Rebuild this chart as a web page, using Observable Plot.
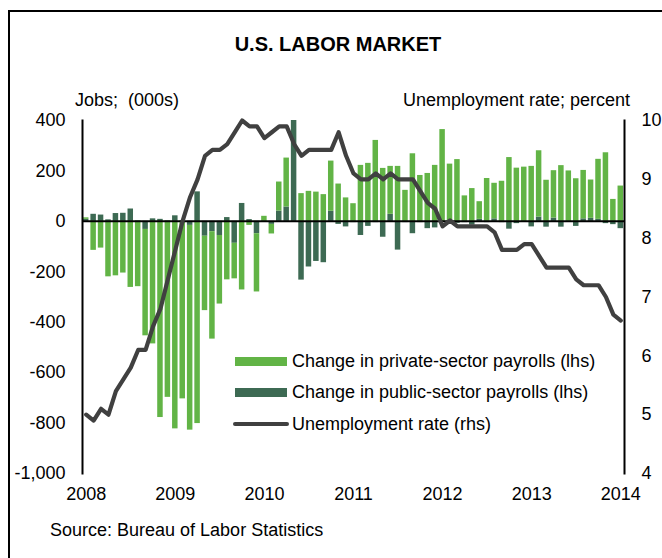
<!DOCTYPE html>
<html><head><meta charset="utf-8">
<script src="https://cdn.jsdelivr.net/npm/d3@7"></script>
<script src="https://cdn.jsdelivr.net/npm/@observablehq/plot@0.6"></script>
<style>
body{margin:0;background:#fff;font-family:"Liberation Sans",Arial,sans-serif;}
#page{position:relative;width:662px;height:558px;overflow:hidden;background:#fff;}
#frame{position:absolute;left:8px;top:10px;width:800px;height:800px;border-left:2px solid #000;border-top:2px solid #000;}
.t{position:absolute;font-size:18px;color:#000;white-space:pre;line-height:1;}
.sw{position:absolute;}
</style></head><body>
<div id="page">
<div id="frame"></div>
<div class="t" style="left:0;width:676px;text-align:center;top:34px;font-weight:bold;font-size:20px;">U.S. LABOR MARKET</div>
<div class="t" style="left:75px;top:91px;">Jobs;  (000s)</div>
<div class="t" style="right:32px;top:91px;">Unemployment rate; percent</div>
<div id="chart" style="position:absolute;left:0;top:110px;"></div>
<div id="legend"></div>
<div class="t" style="left:50px;top:521px;">Source: Bureau of Labor Statistics</div>
</div>
<script>
// Monthly changes, thousands (Jan 2008 - Jan 2014)
const privateSector = [6,-115,-106,-220,-216,-205,-262,-259,-422,-486,-778,-698,
  -823,-704,-812,-802,-295,-426,-272,-232,-141,-272,-16,-231,
  20,-38,115,194,110,110,119,116,106,199,148,93,
  70,222,230,321,210,190,218,123,268,182,190,222,
  364,227,245,101,130,70,170,141,159,253,211,215,
  218,263,163,188,221,200,169,192,152,238,272,87,
  140];
const publicSector = [8,28,25,6,31,32,49,2,-32,10,8,2,
  22,2,-16,117,-59,-41,-56,15,-87,71,7,-49,
  -3,-12,41,57,410,-233,-181,-159,-164,40,-12,-22,
  -5,-56,-20,-5,-63,28,-114,-5,-49,-5,-29,-26,
  -5,-5,-8,-5,-15,8,-5,10,-5,-31,-9,-3,
  -22,17,-23,13,-23,-3,-20,10,12,8,-9,-13,
  -29];
// Unemployment rate, percent
const unemployment = [5.0,4.9,5.1,5.0,5.4,5.6,5.8,6.1,6.1,6.5,6.8,7.3,
  7.8,8.3,8.7,9.0,9.4,9.5,9.5,9.6,9.8,10.0,9.9,9.9,
  9.7,9.8,9.9,9.9,9.6,9.4,9.5,9.5,9.5,9.5,9.8,9.4,
  9.1,9.0,9.0,9.1,9.0,9.1,9.0,9.0,9.0,8.8,8.6,8.5,
  8.2,8.3,8.2,8.2,8.2,8.2,8.2,8.1,7.8,7.8,7.8,7.9,
  7.9,7.7,7.5,7.5,7.5,7.5,7.3,7.2,7.2,7.2,7.0,6.7,
  6.6];
const jobTicks = [-1000,-800,-600,-400,-200,0,200,400];
const rateTicks = [4,5,6,7,8,9,10];
const seriesNames = ["Change in private-sector payrolls (lhs)","Change in public-sector payrolls (lhs)","Unemployment rate (rhs)"];
const colors = {private:"#62b446", public:"#3d6a53", rate:"#404040"};

const months = d3.range(privateSector.length).map(i => `${2008 + Math.floor(i/12)}-${String(i%12+1).padStart(2,"0")}`);
const yearTicks = months.filter(m => m.endsWith("-01"));
const toLeft = u => (u - 4) / 6 * 1400 - 1000;
const fromLeft = v => Math.round((v + 1000) / 1400 * 6 + 4);

const rows = [];
months.forEach((m, i) => {
  rows.push({month: m, series: "public", value: publicSector[i]});
  rows.push({month: m, series: "private", value: privateSector[i]});
});
const rateRows = months.map((m, i) => ({month: m, rate: toLeft(unemployment[i])}));

const chart = Plot.plot({
  width: 662, height: 400,
  marginLeft: 82, marginRight: 38, marginTop: 10, marginBottom: 37,
  style: {fontFamily: "'Liberation Sans', Arial, sans-serif", fontSize: "18px", color: "#000", background: "transparent", overflow: "visible"},
  x: {type: "band", domain: months, paddingInner: 0.26, paddingOuter: 0.13, round: false, label: null},
  y: {domain: [-1000, 400], label: null},
  color: {domain: ["private", "public"], range: [colors.private, colors.public]},
  marks: [
    Plot.barY(rows, {x: "month", y: "value", fill: "series", clip: true}),
    Plot.ruleY([0], {stroke: "#000", strokeWidth: 2}),
    Plot.line(rateRows, {x: "month", y: "rate", stroke: colors.rate, strokeWidth: 4.2, strokeLinejoin: "round", strokeLinecap: "round"}),
    Plot.frame({anchor: "left", stroke: "#000", strokeWidth: 2}),
    Plot.frame({anchor: "right", stroke: "#000", strokeWidth: 2}),
    Plot.axisY({ticks: jobTicks, tickSize: 0, tickPadding: 17, tickFormat: d => d.toLocaleString("en-US"), fontSize: 18, label: null}),
    Plot.axisY({anchor: "right", ticks: rateTicks.map(toLeft), tickSize: 0, tickPadding: 17, tickFormat: d => String(fromLeft(d)), fontSize: 18, label: null}),
    Plot.axisX({ticks: yearTicks, tickSize: 0, tickPadding: 14, tickFormat: m => m.slice(0, 4), fontSize: 18, label: null})
  ]
});
document.getElementById("chart").appendChild(chart);

// Legend
const legend = document.getElementById("legend");
const legendRows = [
  {name: seriesNames[0], kind: "bar", color: colors.private, y: 361},
  {name: seriesNames[1], kind: "bar", color: colors.public, y: 392},
  {name: seriesNames[2], kind: "line", color: colors.rate, y: 424}
];
legendRows.forEach(r => {
  const sw = document.createElement("div");
  sw.className = "sw";
  if (r.kind === "bar") {
    sw.style.cssText = `left:235px;width:52px;top:${r.y - 4.5}px;height:9px;background:${r.color};`;
  } else {
    sw.style.cssText = `left:233px;width:56px;top:${r.y - 2}px;height:4px;border-radius:2px;background:${r.color};`;
  }
  legend.appendChild(sw);
  const t = document.createElement("div");
  t.className = "t";
  t.style.left = "292px";
  t.style.top = (r.y - 9) + "px";
  t.textContent = r.name;
  legend.appendChild(t);
});
</script>
</body></html>
